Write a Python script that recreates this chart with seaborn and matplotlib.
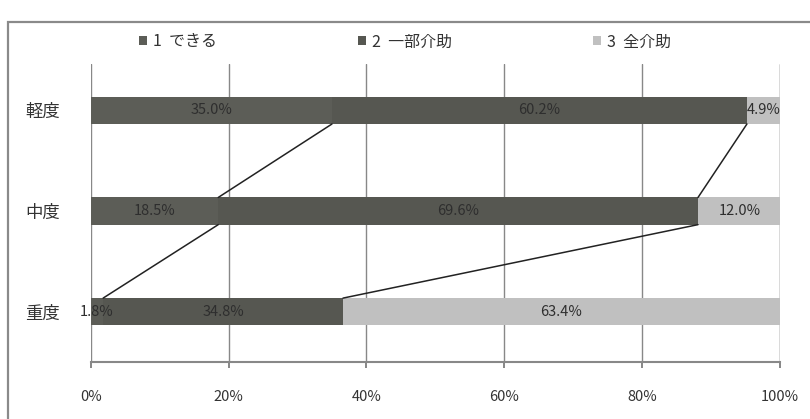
import numpy as np
import pandas as pd
import seaborn as sns
import matplotlib.pyplot as plt
from matplotlib.patches import Rectangle

# --- data ---------------------------------------------------------
levels = ['軽度', '中度', '重度']
series_names = ['1  できる', '2  一部介助', '3  全介助']
s1 = [35.0, 18.5, 1.8]
s2 = [60.2, 69.6, 34.8]
s3 = [4.9, 12.0, 63.4]
tick_vals = [0, 20, 40, 60, 80, 100]
tick_labels = ['0%', '20%', '40%', '60%', '80%', '100%']

colors = ['#5c5d57', '#565751', '#c0c0c0']

sns.set_theme(style='white')
plt.rcParams['font.family'] = ['Noto Sans CJK JP', 'DejaVu Sans']

df = pd.DataFrame({'level': levels, 's1': s1, 's2': s2, 's3': s3})
df['c1'] = df['s1']
df['c2'] = df['s1'] + df['s2']
df['c3'] = df['c2'] + df['s3']

fig = plt.figure(figsize=(8.1, 4.19), dpi=100)
ax = fig.add_axes([0.112, 0.136, 0.851, 0.711])

bar_h = 0.27
# draw cumulative totals from the back so segments stack
for col, name, c in [('c3', series_names[2], colors[2]),
                     ('c2', series_names[1], colors[1]),
                     ('c1', series_names[0], colors[0])]:
    sns.barplot(data=df, x=col, y='level', order=levels, color=c,
                width=bar_h, label=name, ax=ax, zorder=3,
                edgecolor='none', saturation=1)

# segment labels
for i in range(len(levels)):
    starts = [0, df['c1'][i], df['c2'][i]]
    vals = [s1[i], s2[i], s3[i]]
    for st, v in zip(starts, vals):
        ax.text(st + v / 2, i, f'{v:.1f}%', ha='center', va='center',
                fontsize=10.5, color='#2e2e2e', zorder=5)

# series lines between bars
for col in ['c1', 'c2']:
    for i in range(len(levels) - 1):
        ax.plot([df[col][i], df[col][i + 1]],
                [i + bar_h / 2, i + 1 - bar_h / 2],
                color='#222222', lw=1.1, zorder=4)

ax.set_xlim(0, 100)
ax.set_ylim(2.5, -0.46)
ax.set_xticks(tick_vals)
ax.set_xticklabels(tick_labels, fontsize=10.5, color='#333333')
ax.tick_params(axis='x', length=4, pad=16, color='#777777', direction='out', bottom=True)
ax.tick_params(axis='y', length=0, pad=22, labelsize=12.5, labelcolor='#333333')
ax.set_xlabel('')
ax.set_ylabel('')
for x in tick_vals:
    ax.axvline(x, color='#888888' if x < 100 else '#444444', lw=1.0, zorder=1)
for s in ['top', 'right', 'left']:
    ax.spines[s].set_visible(False)
ax.spines['bottom'].set_color('#888888')
ax.spines['bottom'].set_linewidth(1.5)

handles, labels = ax.get_legend_handles_labels()
if ax.get_legend() is not None:
    ax.get_legend().remove()
order = [labels.index(n) for n in series_names]
fig.legend([handles[k] for k in order], [labels[k] for k in order],
           loc='center', bbox_to_anchor=(0.5, 0.9), ncol=3, frameon=False,
           fontsize=11.5, handlelength=0.5, handleheight=0.5,
           handletextpad=0.4, columnspacing=8.8, labelcolor='#333333')

fig.patches.append(Rectangle((0.01, -0.05), 1.1, 0.997, transform=fig.transFigure,
                             fill=False, edgecolor='#8a8a8a', lw=1.6))

fig.savefig('out.png', dpi=100)
